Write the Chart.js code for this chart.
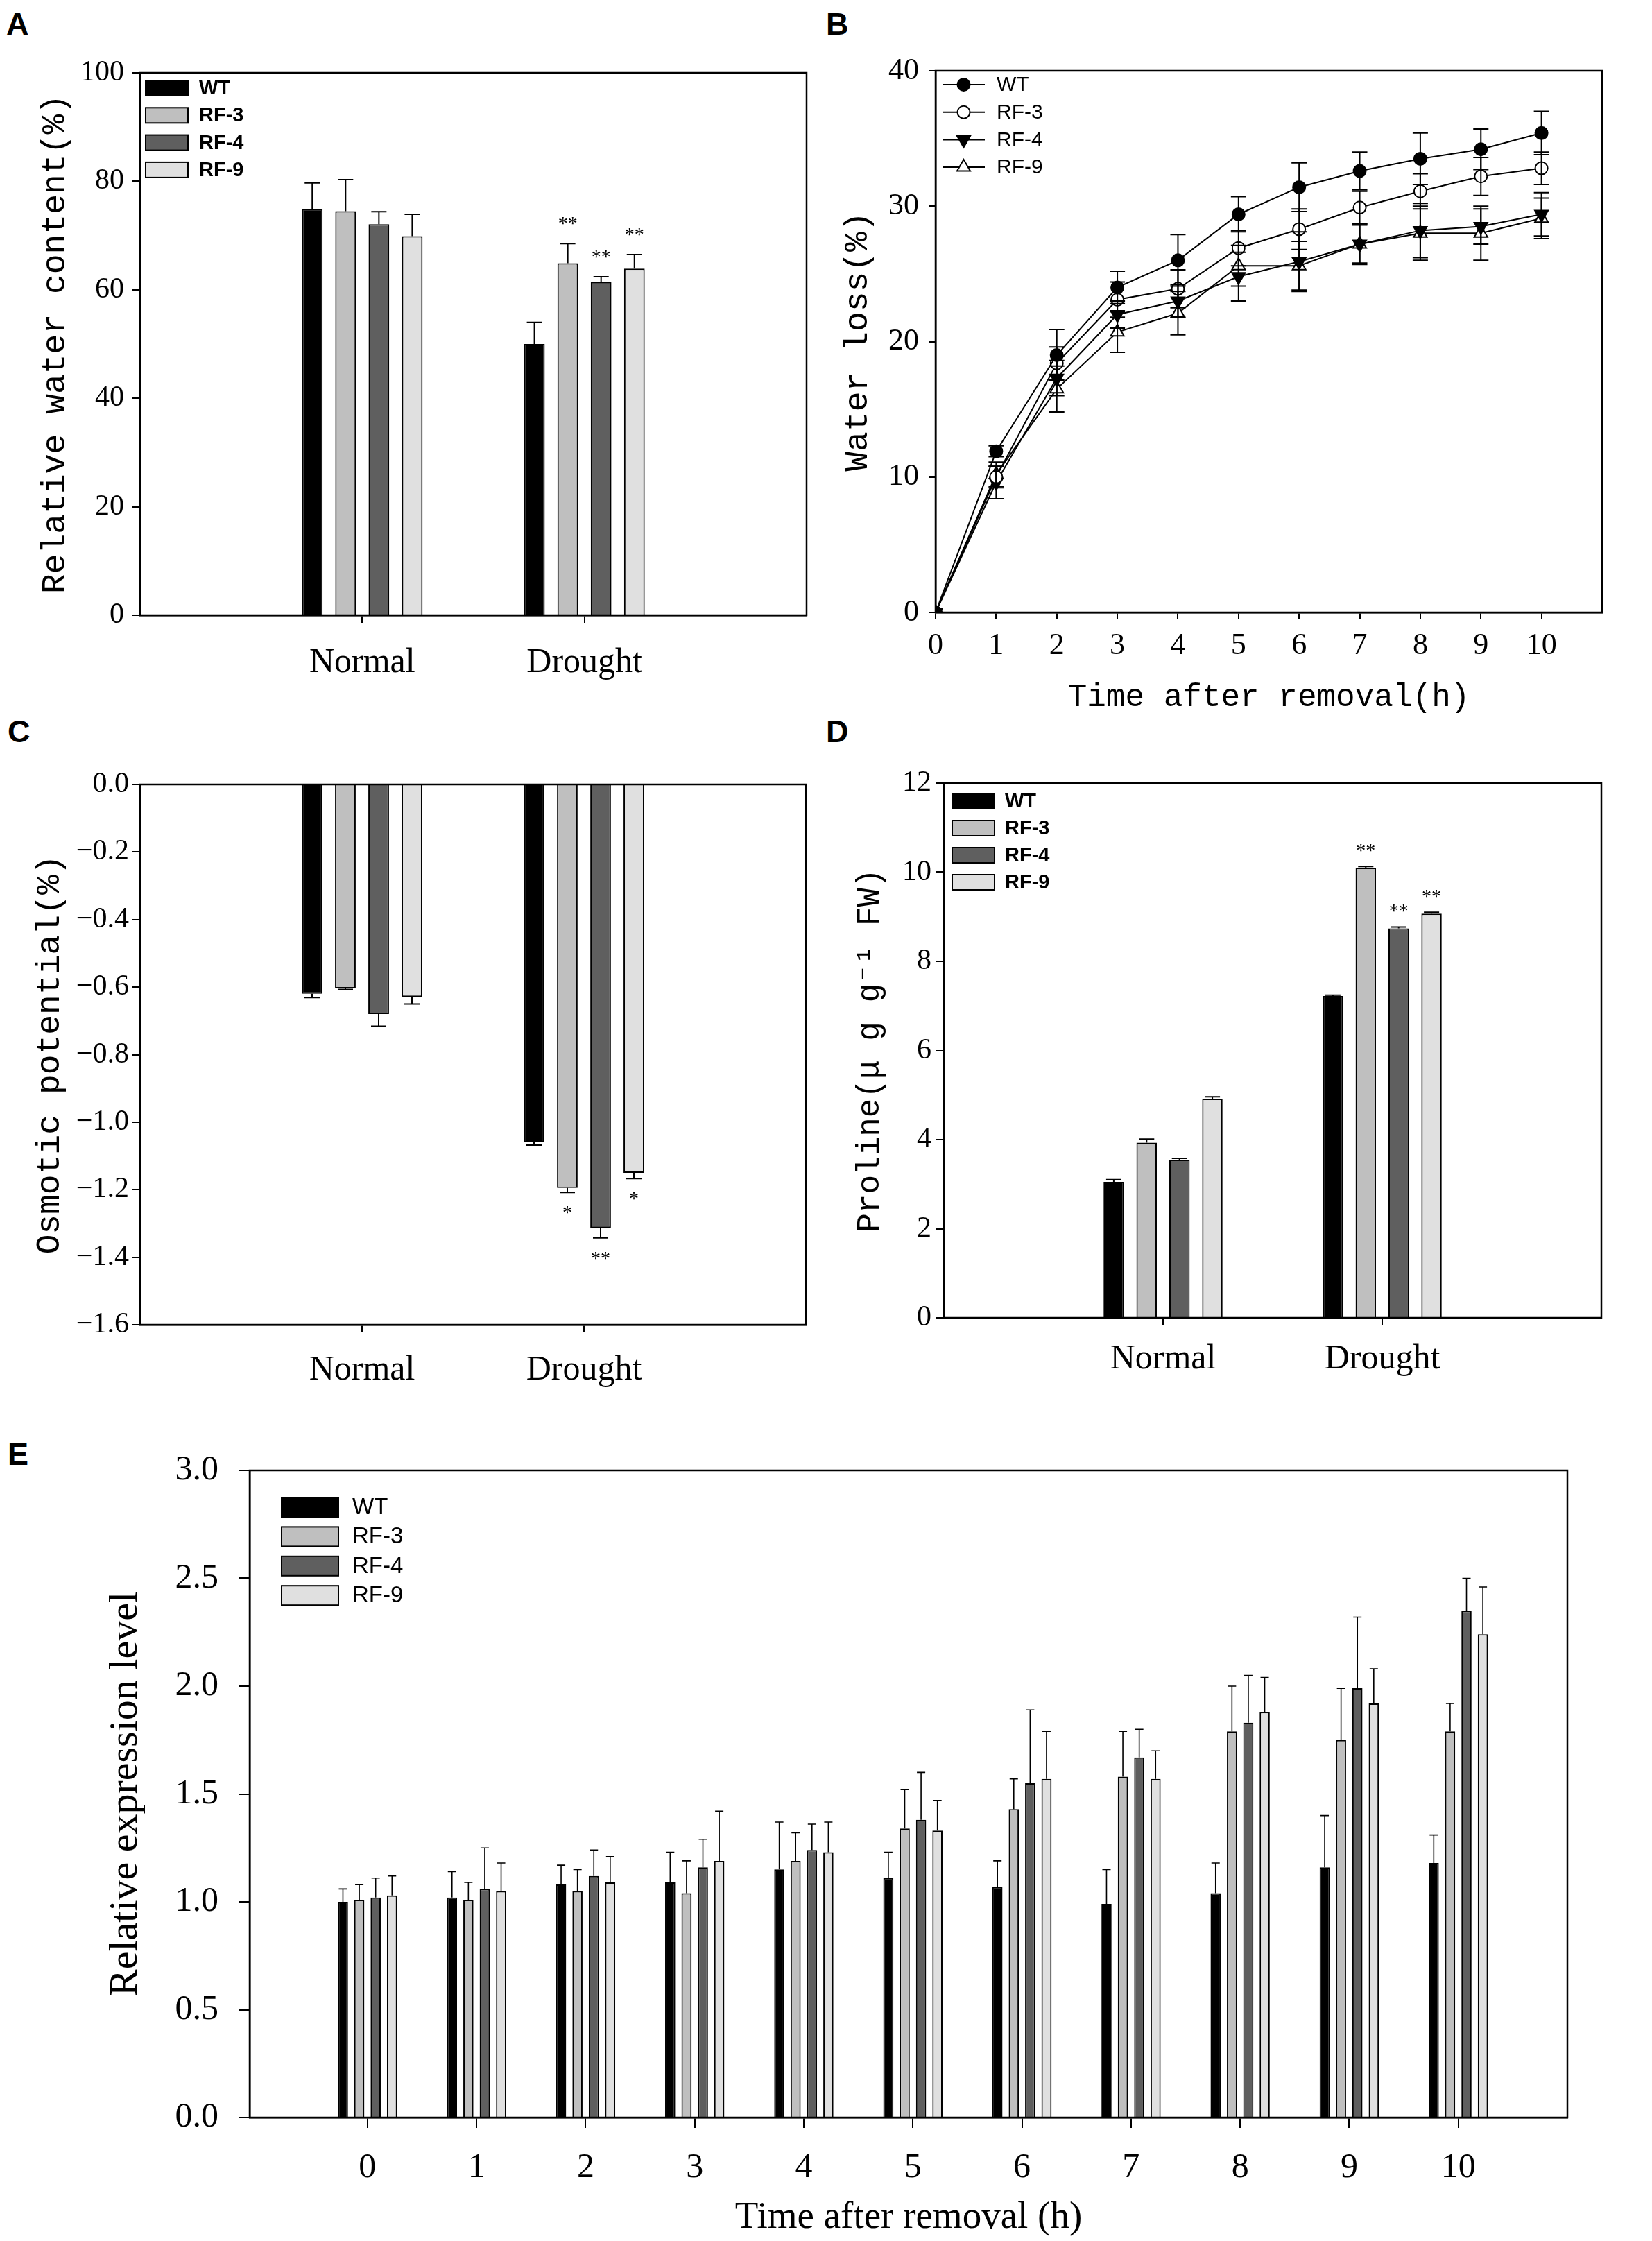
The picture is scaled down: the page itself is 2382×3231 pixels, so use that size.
<!DOCTYPE html>
<html>
<head>
<meta charset="utf-8">
<script src="https://cdn.jsdelivr.net/npm/chart.js@4.4.0/dist/chart.umd.min.js"></script>
<style>
  body { margin: 0; background: #fff; width: 2382px; height: 3231px; position: relative; overflow: hidden; }
  canvas { position: absolute; }
  .tag { position: absolute; font: bold 45px "Liberation Sans", Arial, sans-serif; line-height: 1; color: #000; }
</style>
</head>
<body>
<div class="tag" style="left:9px;top:12px">A</div>
<div class="tag" style="left:1191px;top:12px">B</div>
<div class="tag" style="left:11px;top:1032px">C</div>
<div class="tag" style="left:1191px;top:1032px">D</div>
<div class="tag" style="left:11px;top:2074px">E</div>

<canvas id="chartA" style="left:0;top:0" width="1191" height="1020"></canvas>
<canvas id="chartB" style="left:1191px;top:0" width="1191" height="1060"></canvas>
<canvas id="chartC" style="left:0;top:1020px" width="1191" height="1020"></canvas>
<canvas id="chartD" style="left:1191px;top:1020px" width="1191" height="1020"></canvas>
<canvas id="chartE" style="left:0;top:2060px" width="2382" height="1171"></canvas>

<script>
// ---- data ----
const series = ['WT', 'RF-3', 'RF-4', 'RF-9'];
const treatments = ['Normal', 'Drought'];
const hours = [0, 1, 2, 3, 4, 5, 6, 7, 8, 9, 10];

// A: relative water content (%)
const rwcWT  = [74.9, 50.0];
const rwcRF3 = [74.5, 64.9];
const rwcRF4 = [72.1, 61.4];
const rwcRF9 = [69.9, 63.9];
const rwcErrWT  = [4.8, 4.0];
const rwcErrRF3 = [5.8, 3.6];
const rwcErrRF4 = [2.3, 1.0];
const rwcErrRF9 = [4.0, 2.6];
const rwcStars = [['', ''], ['', '**'], ['', '**'], ['', '**']];

// B: water loss (%)
const lossWT  = [0, 11.9, 19.0, 24.0, 26.0, 29.4, 31.4, 32.6, 33.5, 34.2, 35.4];
const lossRF3 = [0, 10.0, 18.4, 23.1, 23.9, 26.9, 28.3, 29.9, 31.1, 32.2, 32.8];
const lossRF4 = [0, 9.6, 17.3, 22.0, 23.0, 24.8, 25.9, 27.2, 28.2, 28.5, 29.4];
const lossRF9 = [0, 10.2, 16.5, 20.7, 22.1, 25.6, 25.6, 27.2, 28.0, 28.0, 29.1];
const lossErrWT  = [0, 0.4, 1.9, 1.2, 1.9, 1.3, 1.8, 1.4, 1.9, 1.5, 1.6];
const lossErrRF3 = [0, 0.8, 1.2, 1.3, 1.4, 1.3, 1.5, 1.2, 1.3, 1.4, 1.2];
const lossErrRF4 = [0, 1.2, 1.3, 1.0, 1.2, 1.8, 2.2, 1.5, 2.0, 1.3, 1.6];
const lossErrRF9 = [0, 0.9, 1.7, 1.5, 1.6, 1.5, 1.8, 1.4, 2.0, 2.0, 1.5];

// C: osmotic potential
const osmWT  = [-0.620, -1.060];
const osmRF3 = [-0.604, -1.195];
const osmRF4 = [-0.680, -1.313];
const osmRF9 = [-0.629, -1.150];
const osmErrWT  = [0.011, 0.008];
const osmErrRF3 = [0.003, 0.013];
const osmErrRF4 = [0.036, 0.030];
const osmErrRF9 = [0.021, 0.017];
const osmStars = [['', ''], ['', '*'], ['', '**'], ['', '*']];

// D: proline
const proWT  = [3.05, 7.22];
const proRF3 = [3.93, 10.10];
const proRF4 = [3.55, 8.74];
const proRF9 = [4.92, 9.07];
const proErrWT  = [0.05, 0.02];
const proErrRF3 = [0.08, 0.03];
const proErrRF4 = [0.03, 0.03];
const proErrRF9 = [0.04, 0.03];
const proStars = [['', ''], ['', '**'], ['', '**'], ['', '**']];

// E: relative expression level
const exWT  = [1.00, 1.02, 1.08, 1.09, 1.15, 1.11, 1.07, 0.99, 1.04, 1.16, 1.18];
const exRF3 = [1.01, 1.01, 1.05, 1.04, 1.19, 1.34, 1.43, 1.58, 1.79, 1.75, 1.79];
const exRF4 = [1.02, 1.06, 1.12, 1.16, 1.24, 1.38, 1.55, 1.67, 1.83, 1.99, 2.35];
const exRF9 = [1.03, 1.05, 1.09, 1.19, 1.23, 1.33, 1.57, 1.57, 1.88, 1.92, 2.24];
const exErrWT  = [0.06, 0.12, 0.09, 0.14, 0.22, 0.12, 0.12, 0.16, 0.14, 0.24, 0.13];
const exErrRF3 = [0.07, 0.08, 0.10, 0.15, 0.13, 0.18, 0.14, 0.21, 0.21, 0.24, 0.13];
const exErrRF4 = [0.09, 0.19, 0.12, 0.13, 0.12, 0.22, 0.34, 0.13, 0.22, 0.33, 0.15];
const exErrRF9 = [0.09, 0.13, 0.12, 0.23, 0.14, 0.14, 0.22, 0.13, 0.16, 0.16, 0.22];

// ---- styling ----
const fills = ['#000000', '#bfbfbf', '#5f5f5f', '#e0e0e0'];
const serif = '"Liberation Serif", "Times New Roman", serif';
const mono = '"Liberation Mono", "Courier New", monospace';
const sans = '"Liberation Sans", Arial, sans-serif';

// error bars (and significance stars) on top of the marks
const errorBars = {
  id: 'errorBars',
  afterDatasetsDraw(chart, args, o) {
    const ctx = chart.ctx, ys = chart.scales.y;
    ctx.save();
    ctx.strokeStyle = '#000';
    ctx.lineWidth = o.width;
    chart.data.datasets.forEach((ds, i) => {
      if (!ds.errors) return;
      chart.getDatasetMeta(i).data.forEach((el, j) => {
        const v = ds.data[j].y, e = ds.errors[j];
        const dir = v < 0 ? -1 : 1;
        const yEnd = ys.getPixelForValue(v + dir * e);
        if (e) {
          const yStart = o.both ? ys.getPixelForValue(v - dir * e) : el.y;
          ctx.beginPath();
          ctx.moveTo(el.x, yStart); ctx.lineTo(el.x, yEnd);
          ctx.moveTo(el.x - o.cap, yEnd); ctx.lineTo(el.x + o.cap, yEnd);
          if (o.both) { ctx.moveTo(el.x - o.cap, yStart); ctx.lineTo(el.x + o.cap, yStart); }
          ctx.stroke();
        }
        if (ds.stars && ds.stars[j]) {
          ctx.fillStyle = '#000';
          ctx.font = o.starSize + 'px ' + serif;
          ctx.textAlign = 'center';
          ctx.textBaseline = 'alphabetic';
          const cy = yEnd - dir * o.starGap;
          ctx.fillText(ds.stars[j], el.x, cy + 0.49 * o.starSize);
        }
      });
    });
    ctx.restore();
  }
};

// closed box round the plot
const frame = {
  id: 'frame',
  afterDatasetsDraw(chart) {
    const {left, top, right, bottom} = chart.chartArea;
    const ctx = chart.ctx;
    ctx.save();
    ctx.strokeStyle = '#000';
    ctx.lineWidth = 2.5;
    ctx.strokeRect(left, top, right - left, bottom - top);
    ctx.restore();
  }
};

function marker(ctx, style, rot, r, x, y, fill) {
  ctx.beginPath();
  if (style === 'circle') {
    ctx.arc(x, y, r, 0, Math.PI * 2);
  } else {
    for (let k = 0; k < 3; k++) {
      const a = rot * Math.PI / 180 + k * 2 * Math.PI / 3;
      const px = x + Math.sin(a) * r, py = y - Math.cos(a) * r;
      k ? ctx.lineTo(px, py) : ctx.moveTo(px, py);
    }
    ctx.closePath();
  }
  ctx.fillStyle = fill;
  ctx.fill();
  ctx.stroke();
}

// legend drawn inside the plot, top left
const key = {
  id: 'key',
  afterDraw(chart, args, o) {
    if (o.kind === 'none') return;
    const ctx = chart.ctx, a = chart.chartArea;
    ctx.save();
    ctx.strokeStyle = '#000';
    ctx.lineWidth = 2;
    chart.data.datasets.forEach((ds, k) => {
      const y = a.top + o.y + k * o.step;
      const x0 = a.left + o.x;
      if (o.kind === 'box') {
        ctx.fillStyle = ds.backgroundColor;
        ctx.fillRect(x0, y - o.h / 2, o.w, o.h);
        ctx.strokeRect(x0, y - o.h / 2, o.w, o.h);
      } else {
        ctx.beginPath();
        ctx.moveTo(x0, y); ctx.lineTo(x0 + o.w, y);
        ctx.stroke();
        marker(ctx, ds.pointStyle, ds.pointRotation, ds.pointRadius, x0 + o.w / 2, y, ds.pointBackgroundColor);
      }
      ctx.fillStyle = '#000';
      ctx.font = o.font;
      ctx.textAlign = 'left';
      ctx.textBaseline = 'middle';
      ctx.fillText(ds.label, a.left + o.textX, y + 1);
    });
    ctx.restore();
  }
};

function barSets(xs, vals, errs, stars, bw) {
  return series.map((name, k) => ({
    label: name,
    data: vals[k].map((y, i) => ({ x: xs[i], y: y })),
    errors: errs[k],
    stars: stars ? stars[k] : null,
    backgroundColor: fills[k],
    borderColor: '#000',
    borderWidth: bw,
    categoryPercentage: 0.6,
    barPercentage: 0.62
  }));
}

function axisGrid(len, w) {
  return { display: true, offset: false, drawOnChartArea: false, drawTicks: true, tickLength: len, color: '#000', lineWidth: w };
}

// box: chart area inside the canvas; ax: per-axis text settings
function makeChart(id, type, datasets, box, ax, plug) {
  const cv = document.getElementById(id);
  const W = cv.width, H = cv.height;
  return new Chart(cv, {
    type: type,
    data: { datasets: datasets },
    plugins: [frame, errorBars, key],
    options: {
      responsive: false,
      animation: false,
      devicePixelRatio: 1,
      layout: {
        autoPadding: false,
        padding: { left: 0, top: box.top, right: W - box.right, bottom: H - box.bottom - ax.xH }
      },
      plugins: {
        legend: { display: false },
        tooltip: { enabled: false },
        errorBars: plug.err,
        key: plug.key
      },
      scales: {
        x: {
          type: 'linear',
          offset: false,
          min: ax.xMin, max: ax.xMax,
          afterBuildTicks: s => { s.ticks = ax.xTicks.map(v => ({ value: v })); },
          afterFit: s => { s.height = ax.xH; },
          ticks: {
            autoSkip: false, maxRotation: 0, color: '#000', padding: ax.xPad,
            font: { family: ax.xFont, size: ax.xSize },
            callback: (v, i) => ax.xLabels[i]
          },
          grid: axisGrid(ax.tick, 2),
          border: { color: '#000', width: 2.5 },
          title: ax.xTitle ? {
            display: true, text: ax.xTitle, color: '#000',
            font: { family: ax.titleFont, size: ax.xTitleSize },
            padding: { top: ax.xTitlePad, bottom: 0 }
          } : { display: false }
        },
        y: {
          min: ax.yMin, max: ax.yMax,
          afterFit: s => { s.width = box.left; },
          ticks: {
            stepSize: ax.yStep, color: '#000', padding: ax.yPad,
            font: { family: ax.numFont, size: ax.ySize },
            callback: ax.yFmt
          },
          grid: axisGrid(ax.tick, 2),
          border: { color: '#000', width: 2.5 },
          title: {
            display: true, text: ax.yTitle, color: '#000',
            font: { family: ax.titleFont, size: ax.yTitleSize },
            padding: { top: ax.yTitlePad, bottom: 0 }
          }
        }
      }
    }
  });
}

const groupPos = treatments.map((t, i) => i + 1);
const fmtMinus = v => v.toFixed(1).replace('-', '\u2212');

// A
makeChart('chartA', 'bar',
  barSets(groupPos, [rwcWT, rwcRF3, rwcRF4, rwcRF9], [rwcErrWT, rwcErrRF3, rwcErrRF4, rwcErrRF9], rwcStars, 2),
  { left: 202, right: 1163, top: 105, bottom: 887 },
  { xMin: 0, xMax: 3, xTicks: groupPos, xLabels: treatments, xH: 110, xPad: 28, xFont: serif, xSize: 50,
    tick: 11, yMin: 0, yMax: 100, yStep: 20, yPad: 12, numFont: serif, ySize: 42, yFmt: v => String(v),
    titleFont: mono, yTitle: 'Relative water content(%)', yTitleSize: 48, yTitlePad: 51 },
  { err: { width: 2, cap: 11, both: false, starSize: 28, starGap: 34 },
    key: { kind: 'box', x: 8, y: 22, step: 39.3, w: 61, h: 22, textX: 85, font: 'bold 29px ' + sans } });

// B
makeChart('chartB', 'line',
  [
    { label: 'WT', data: hours.map((h, i) => ({ x: h, y: lossWT[i] })), errors: lossErrWT,
      pointStyle: 'circle', pointRotation: 0, pointRadius: 9, pointBackgroundColor: '#000' },
    { label: 'RF-3', data: hours.map((h, i) => ({ x: h, y: lossRF3[i] })), errors: lossErrRF3,
      pointStyle: 'circle', pointRotation: 0, pointRadius: 9, pointBackgroundColor: '#fff' },
    { label: 'RF-4', data: hours.map((h, i) => ({ x: h, y: lossRF4[i] })), errors: lossErrRF4,
      pointStyle: 'triangle', pointRotation: 180, pointRadius: 11, pointBackgroundColor: '#000' },
    { label: 'RF-9', data: hours.map((h, i) => ({ x: h, y: lossRF9[i] })), errors: lossErrRF9,
      pointStyle: 'triangle', pointRotation: 0, pointRadius: 11, pointBackgroundColor: '#fff' }
  ].map(d => Object.assign(d, { borderColor: '#000', borderWidth: 2, pointBorderColor: '#000', pointBorderWidth: 2, tension: 0 })),
  { left: 158, right: 1119, top: 102, bottom: 883 },
  { xMin: 0, xMax: 11, xTicks: hours, xLabels: hours.map(String), xH: 150, xPad: 12, xFont: serif, xSize: 44,
    xTitle: 'Time after removal(h)', xTitleSize: 46, xTitlePad: 3,
    tick: 10, yMin: 0, yMax: 40, yStep: 10, yPad: 14, numFont: serif, ySize: 44, yFmt: v => String(v),
    titleFont: mono, yTitle: 'Water loss(%)', yTitleSize: 48, yTitlePad: 17 },
  { err: { width: 2, cap: 11, both: true, starSize: 28, starGap: 30 },
    key: { kind: 'line', x: 10, y: 20, step: 39.7, w: 61, h: 0, textX: 88, font: '30px ' + sans } });

// C
makeChart('chartC', 'bar',
  barSets(groupPos, [osmWT, osmRF3, osmRF4, osmRF9], [osmErrWT, osmErrRF3, osmErrRF4, osmErrRF9], osmStars, 2),
  { left: 202, right: 1162, top: 111, bottom: 890 },
  { xMin: 0, xMax: 3, xTicks: groupPos, xLabels: treatments, xH: 110, xPad: 25, xFont: serif, xSize: 50,
    tick: 11, yMin: -1.6, yMax: 0, yStep: 0.2, yPad: 5, numFont: serif, ySize: 42, yFmt: fmtMinus,
    titleFont: mono, yTitle: 'Osmotic potential(%)', yTitleSize: 48, yTitlePad: 43 },
  { err: { width: 2, cap: 11, both: false, starSize: 28, starGap: 24 },
    key: { kind: 'none' } });

// D
makeChart('chartD', 'bar',
  barSets(groupPos, [proWT, proRF3, proRF4, proRF9], [proErrWT, proErrRF3, proErrRF4, proErrRF9], proStars, 2),
  { left: 170, right: 1118, top: 109, bottom: 880 },
  { xMin: 0, xMax: 3, xTicks: groupPos, xLabels: treatments, xH: 110, xPad: 19, xFont: serif, xSize: 50,
    tick: 11, yMin: 0, yMax: 12, yStep: 2, yPad: 7, numFont: serif, ySize: 42, yFmt: v => String(v),
    titleFont: mono, yTitle: 'Proline(\u03bc g g\u207b\u00b9 FW)', yTitleSize: 46, yTitlePad: 36 },
  { err: { width: 2, cap: 11, both: false, starSize: 28, starGap: 28 },
    key: { kind: 'box', x: 12, y: 26, step: 39, w: 61, h: 22, textX: 88, font: 'bold 29px ' + sans } });

// E
makeChart('chartE', 'bar',
  barSets(hours, [exWT, exRF3, exRF4, exRF9], [exErrWT, exErrRF3, exErrRF4, exErrRF9], null, 2),
  { left: 360, right: 2260, top: 45, bottom: 993 },
  { xMin: -1.08, xMax: 11, xTicks: hours, xLabels: hours.map(String), xH: 178, xPad: 28, xFont: serif, xSize: 50,
    xTitle: 'Time after removal (h)', xTitleSize: 55, xTitlePad: 0,
    tick: 15, yMin: 0, yMax: 3, yStep: 0.5, yPad: 30, numFont: serif, ySize: 50, yFmt: v => v.toFixed(1),
    titleFont: serif, yTitle: 'Relative expression level', yTitleSize: 58, yTitlePad: 147 },
  { err: { width: 1.6, cap: 6, both: false, starSize: 28, starGap: 30 },
    key: { kind: 'box', x: 46, y: 53, step: 42.4, w: 82, h: 28, textX: 148, font: '33px ' + sans } });
</script>
</body>
</html>
